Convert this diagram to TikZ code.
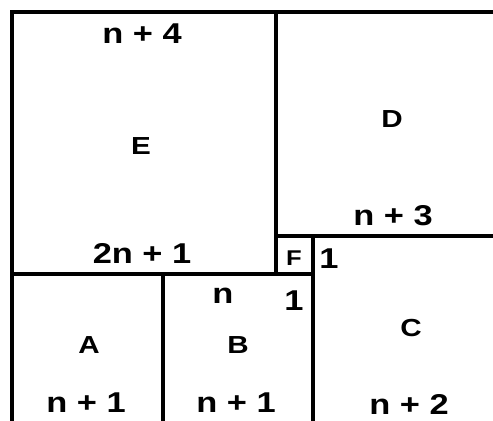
\documentclass[tikz,border=0pt]{standalone}
\usepackage{fontspec}
\setmainfont{Liberation Sans}[FakeStretch=1.2]
\usepackage{tikz}
\usetikzlibrary{positioning}

\begin{document}
\begin{tikzpicture}[
      x = 0.75pt, y = -0.75pt
    ]
    \tikzstyle{my line} = [line width=2.3pt, line cap=rect]
    \tikzstyle{size label} = [inner sep=0pt, font=\bfseries\fontsize{21.5}{24}\selectfont]
    \tikzstyle{box label} = [inner sep=0pt, font=\bfseries\fontsize{18.5}{22}\selectfont]
    \useasboundingbox (0,0) rectangle (493,421);
    % walls of the squares
    \draw[my line] (12,421) -- (12,12) -- (493,12);
    \draw[my line] (276,12) -- (276,274);
    \draw[my line] (12,274) -- (313,274);
    \draw[my line] (276,236) -- (493,236);
    \draw[my line] (163,274) -- (163,421);
    \draw[my line] (313,236) -- (313,421);
    % square E
    \node[size label] (E top) at (142,34) {n + 4};
    \node[box label] (E) at (141,146) {E};
    \node[size label] (E bottom) at (142,253) {2n + 1};
    % square D
    \node[box label] (D) at (392,119) {D};
    \node[size label] (D bottom) at (393,216) {n + 3};
    % square F
    \node[box label, font=\bfseries\fontsize{16}{18}\selectfont] (F) at (294,258) {F};
    % square C
    \node[size label] (C top) at (329,259) {1};
    \node[box label] (C) at (411,328) {C};
    \node[size label] (C bottom) at (409,404) {n + 2};
    % square B
    \node[size label] (B top) at (223,296) {n};
    \node[size label] (B corner) at (294,301) {1};
    \node[box label] (B) at (238,345) {B};
    \node[size label] (B bottom) at (236,403) {n + 1};
    % square A
    \node[box label] (A) at (89,345) {A};
    \node[size label] (A bottom) at (86,403) {n + 1};
  \end{tikzpicture}
\end{document}
